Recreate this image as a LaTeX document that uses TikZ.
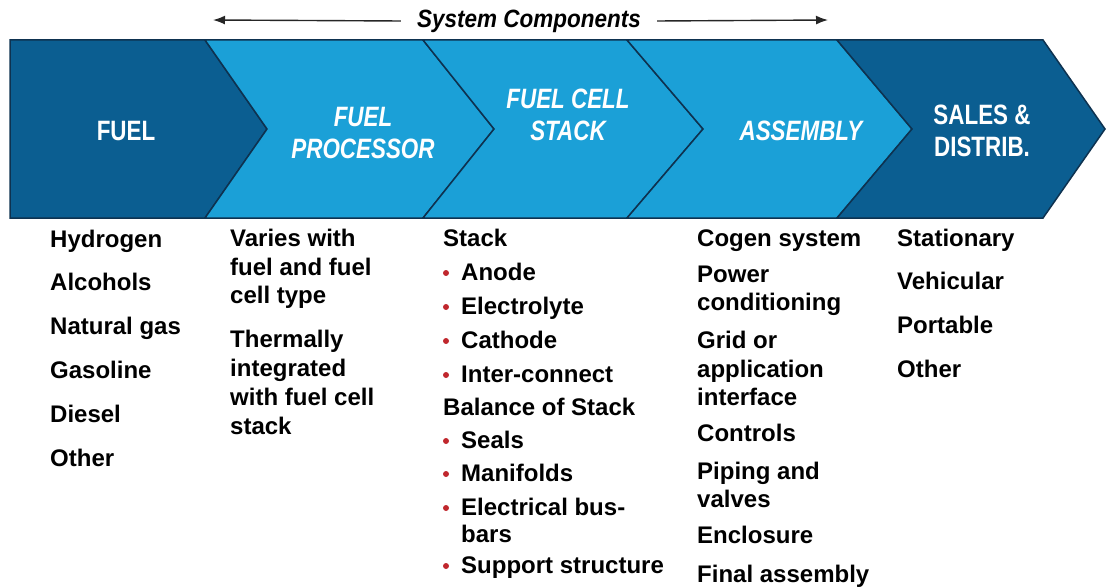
\documentclass[tikz,border=0pt]{standalone}
\usepackage{fontspec}
\setmainfont{Liberation Sans}
\newfontfamily\headfont{Liberation Sans}[FakeStretch=0.8]
\newfontfamily\sysfont{Liberation Sans}[FakeStretch=0.9]
\usetikzlibrary{arrows.meta}
\definecolor{darkblue}{HTML}{0B5E91}
\definecolor{lightblue}{HTML}{1BA0D7}
\definecolor{edgeblue}{HTML}{0E3250}
\definecolor{dotred}{HTML}{C0272D}
\begin{document}
\begin{tikzpicture}[x=1pt,y=-1pt,
  seg/.style={draw=edgeblue,line width=1.5pt,line join=miter},
  head/.style={text=white,align=center,inner sep=0pt,font=\headfont\bfseries\fontsize{28}{32}\selectfont},
  headit/.style={head,font=\headfont\bfseries\itshape\fontsize{28}{32}\selectfont},
  item/.style={anchor=base west,inner sep=0pt,font=\bfseries\fontsize{24}{28}\selectfont},
  arr/.style={draw=black!85,line width=1.4pt,-{Latex[length=12pt,width=9pt]}}]
\useasboundingbox (0,0) rectangle (1107,588);
% the five chevrons
\draw[seg,fill=darkblue] (10,40) -- (205,40) -- (267,129) -- (205,218) -- (10,218) -- cycle;
\draw[seg,fill=lightblue] (205,40) -- (423,40) -- (494,129) -- (423,218) -- (205,218) -- (267,129) -- cycle;
\draw[seg,fill=lightblue] (423,40) -- (627,40) -- (703,129) -- (627,218) -- (423,218) -- (494,129) -- cycle;
\draw[seg,fill=lightblue] (627,40) -- (837,40) -- (912,129) -- (837,218) -- (627,218) -- (703,129) -- cycle;
\draw[seg,fill=darkblue] (837,40) -- (1043,40) -- (1105,129) -- (1043,218) -- (837,218) -- (912,129) -- cycle;
% chevron titles
\node[head] (fuel) at (126,131) {FUEL};
\node[headit] (proc) at (363,133) {FUEL\\PROCESSOR};
\node[headit] (stack) at (568,115) {FUEL CELL\\STACK};
\node[headit] (asm) at (801,131) {ASSEMBLY};
\node[head] (sales) at (982,131) {SALES \&\\DISTRIB.};
% top label with arrows
\node[inner ysep=0pt,inner xsep=16pt,font=\sysfont\bfseries\itshape\fontsize{25}{28}\selectfont] (sys) at (529,21) {System Components};
\coordinate (sysl) at (213,20);
\coordinate (sysr) at (828,20);
\draw[arr] (sys.west) -- (sysl);
\draw[arr] (sys.east) -- (sysr);
% fuel column
\foreach \yy/\t [count=\i] in {247/Hydrogen,290/Alcohols,334/Natural gas,378/Gasoline,422/Diesel,466/Other}
  \node[item] (fuel\i) at (50,\yy) {\t};
% processor column
\foreach \yy/\t [count=\i] in {246/Varies with,275/fuel and fuel,303/cell type,347/Thermally,376/integrated,405/with fuel cell,434/stack}
  \node[item] (proc\i) at (230,\yy) {\t};
% stack column
\node[item] (stk0) at (443,246) {Stack};
\node[item] (bos) at (443,415) {Balance of Stack};
\node[item] (bars) at (461,542) {bars};
\foreach \yy/\t [count=\i] in {280/Anode,314/Electrolyte,348/Cathode,382/Inter-connect,448/Seals,481/Manifolds,515/Electrical bus-,573/Support structure}
{
  \node[item] (stk\i) at (461,\yy) {\t};
  \fill[dotred] ([xshift=-15pt,yshift=7pt]stk\i.base west) circle (3);
}
% assembly column
\foreach \yy/\t [count=\i] in {246/Cogen system,282/Power,310/conditioning,348/Grid or,377/application,405/interface,441/Controls,479/Piping and,507/valves,543/Enclosure,582/Final assembly}
  \node[item] (asm\i) at (697,\yy) {\t};
% sales column
\foreach \yy/\t [count=\i] in {246/Stationary,289/Vehicular,333/Portable,377/Other}
  \node[item] (sales\i) at (897,\yy) {\t};
\end{tikzpicture}
\end{document}
